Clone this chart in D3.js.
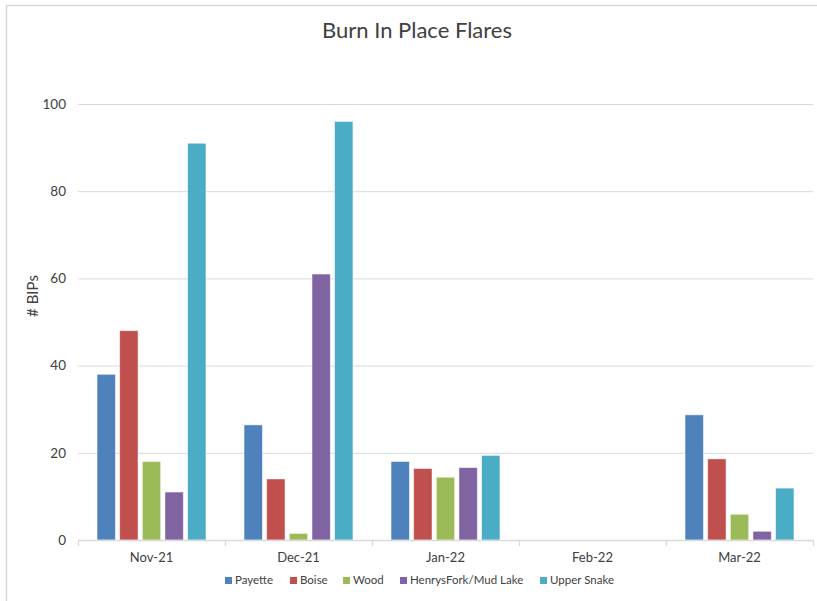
<!DOCTYPE html>
<html>
<head>
<meta charset="utf-8">
<script src="https://cdn.jsdelivr.net/npm/d3@7/dist/d3.min.js"></script>
<style>
  html, body { margin: 0; padding: 0; background: #fff; }
  svg { display: block; }
  text { font-family: Lato, "Open Sans", "Liberation Sans", sans-serif; fill: #404040; }
</style>
</head>
<body>
<svg id="chart" width="817" height="601"></svg>
<script>
// Monthly counts of burn-in-place flares by area
const months = ["Nov-21", "Dec-21", "Jan-22", "Feb-22", "Mar-22"];
const seriesNames = ["Payette", "Boise", "Wood", "HenrysFork/Mud Lake", "Upper Snake"];
const colors = ["#4f81bd", "#c0504d", "#9bbb59", "#8064a2", "#4bacc6"];
const payette = [38, 26.4, 18, 0, 28.7];
const boise = [48, 14, 16.4, 0, 18.6];
const wood = [18, 1.5, 14.4, 0, 5.9];
const henrysFork = [11, 61, 16.6, 0, 2];
const upperSnake = [91, 96, 19.4, 0, 11.9];
const yTicks = [0, 20, 40, 60, 80, 100];

const seriesValues = [payette, boise, wood, henrysFork, upperSnake];

const svg = d3.select("#chart");

// outer chart frame
svg.append("rect")
  .attr("x", 6.5).attr("y", 5.5)
  .attr("width", 830).attr("height", 620)
  .attr("fill", "none").attr("stroke", "#d9d9d9").attr("stroke-width", 1.5);

const plot = { left: 78, right: 813, top: 104, bottom: 540 };

const x0 = d3.scaleBand().domain(months).range([plot.left, plot.right]).padding(0);
const x1 = d3.scaleBand().domain(seriesNames)
  .range([17, x0.bandwidth() - 17])
  .paddingInner(0.19).paddingOuter(0.09);
const y = d3.scaleLinear().domain([0, 100]).range([plot.bottom, plot.top]);

// horizontal gridlines
svg.append("g").selectAll("line").data(yTicks.filter(d => d > 0)).join("line")
  .attr("x1", plot.left).attr("x2", plot.right)
  .attr("y1", d => y(d) + 0.5).attr("y2", d => y(d) + 0.5)
  .attr("stroke", "#d9d9d9").attr("stroke-width", 1);

// y axis tick labels
const yAxis = d3.axisLeft(y).tickValues(yTicks).tickSize(0).tickPadding(12);
const gy = svg.append("g").attr("transform", `translate(${plot.left},0)`).call(yAxis);
gy.select(".domain").remove();
gy.selectAll("text").attr("font-size", 13.5).attr("fill", "#595959")
  .style("font-family", "Lato, 'Open Sans', sans-serif");

// bars
const groups = svg.append("g").selectAll("g").data(months).join("g")
  .attr("transform", d => `translate(${x0(d)},0)`);
groups.selectAll("rect")
  .data((m, i) => seriesNames.map((s, k) => ({ s, k, v: seriesValues[k][i] })))
  .join("rect")
  .attr("x", d => x1(d.s))
  .attr("width", x1.bandwidth())
  .attr("y", d => y(d.v))
  .attr("height", d => y(0) - y(d.v))
  .attr("fill", d => colors[d.k])
  .attr("stroke", "#ffffff").attr("stroke-opacity", 0.6).attr("stroke-width", 0.8)
  .attr("display", d => d.v > 0 ? null : "none");

// x axis with ticks at category boundaries
const gx = svg.append("g").attr("transform", `translate(0,${plot.bottom})`);
gx.append("line").attr("x1", plot.left).attr("x2", plot.right)
  .attr("y1", 0.5).attr("y2", 0.5).attr("stroke", "#d9d9d9").attr("stroke-width", 1.3);
const bounds = months.map(m => x0(m)).concat([plot.right]);
gx.selectAll("line.tick").data(bounds).join("line").attr("class", "tick")
  .attr("x1", d => d + 0.5).attr("x2", d => d + 0.5)
  .attr("y1", 0).attr("y2", 6)
  .attr("stroke", "#d9d9d9").attr("stroke-width", 1.3);
const xAxis = d3.axisBottom(x0).tickSize(0).tickPadding(0);
const gxl = svg.append("g").attr("transform", `translate(0,${plot.bottom})`).call(xAxis);
gxl.select(".domain").remove();
gxl.selectAll("text").attr("font-size", 13).attr("fill", "#595959").attr("dy", 0).attr("y", 22)
  .style("font-family", "Lato, 'Open Sans', sans-serif");

// title
svg.append("text").attr("x", 417).attr("y", 38).attr("text-anchor", "middle")
  .attr("font-size", 22).attr("fill", "#000").text("Burn In Place Flares");

// y axis title
svg.append("text").attr("transform", "translate(38,296) rotate(-90)")
  .attr("text-anchor", "middle").attr("font-size", 15).attr("fill", "#000").text("# BIPs");

// legend
const legendX = [225, 290, 343, 400, 540];
const lg = svg.append("g").selectAll("g").data(seriesNames).join("g")
  .attr("transform", (d, i) => `translate(${legendX[i]},584)`);
lg.append("rect").attr("x", 0).attr("y", -7).attr("width", 7).attr("height", 7)
  .attr("fill", (d, i) => colors[i]);
lg.append("text").attr("x", 10).attr("y", 0).attr("font-size", 11.5).attr("fill", "#595959").text(d => d);
</script>
</body>
</html>
